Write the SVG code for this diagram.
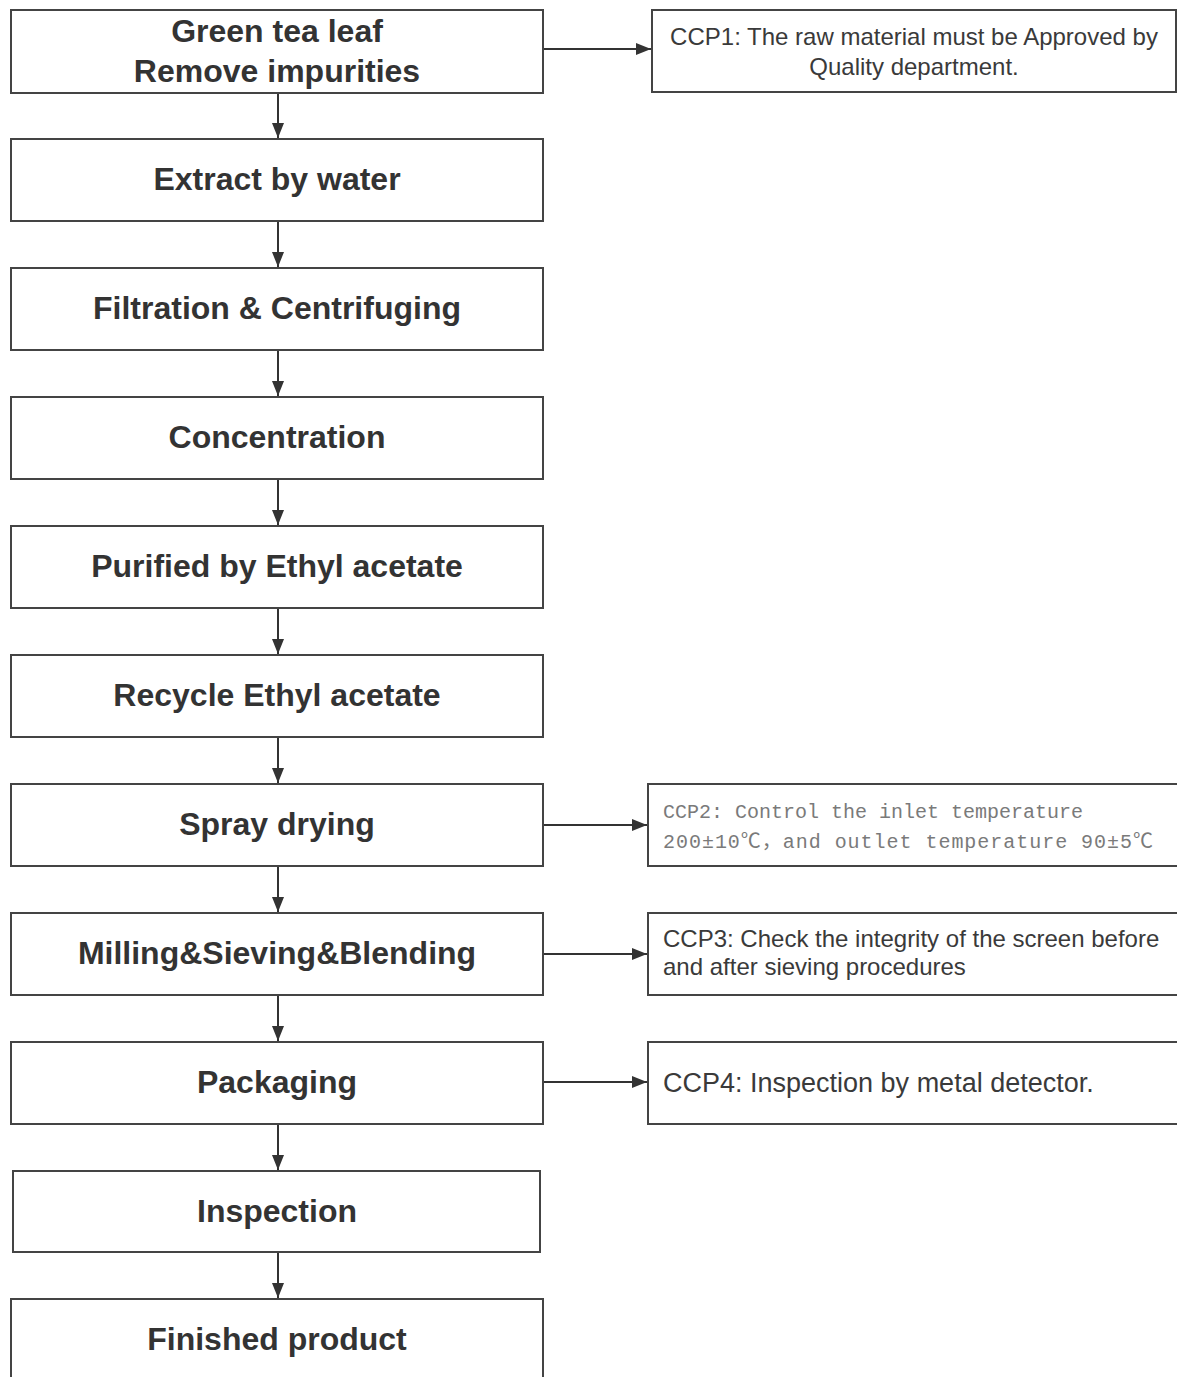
<svg xmlns="http://www.w3.org/2000/svg" width="1177" height="1377" viewBox="0 0 1177 1377">
<style>
.box{fill:#fff;stroke:#444;stroke-width:2}
.main{font-family:"Liberation Sans",Arial,sans-serif;font-weight:bold;font-size:32px;fill:#333;text-anchor:middle}
.note{font-family:"Liberation Sans",Arial,sans-serif;font-size:24px;fill:#3a3a3a}
.mono{font-family:"Liberation Mono","Noto Sans CJK SC",monospace;font-size:20px;fill:#7a7a7a}
.conn{stroke:#333;stroke-width:2;fill:none}
</style>
<defs>
<marker id="ah" markerUnits="userSpaceOnUse" markerWidth="16" markerHeight="14" viewBox="0 0 16 14" refX="15" refY="7" orient="auto">
<path d="M0,1 L15,7 L0,13 Z" fill="#333"/>
</marker>
</defs>
<rect width="1177" height="1377" fill="#fff"/>
<g id="connectors">
<line class="conn" x1="278" y1="93" x2="278" y2="138" marker-end="url(#ah)"/>
<line class="conn" x1="278" y1="221" x2="278" y2="267" marker-end="url(#ah)"/>
<line class="conn" x1="278" y1="350" x2="278" y2="396" marker-end="url(#ah)"/>
<line class="conn" x1="278" y1="479" x2="278" y2="525" marker-end="url(#ah)"/>
<line class="conn" x1="278" y1="608" x2="278" y2="654" marker-end="url(#ah)"/>
<line class="conn" x1="278" y1="737" x2="278" y2="783" marker-end="url(#ah)"/>
<line class="conn" x1="278" y1="866" x2="278" y2="912" marker-end="url(#ah)"/>
<line class="conn" x1="278" y1="995" x2="278" y2="1041" marker-end="url(#ah)"/>
<line class="conn" x1="278" y1="1124" x2="278" y2="1170" marker-end="url(#ah)"/>
<line class="conn" x1="278" y1="1252" x2="278" y2="1298" marker-end="url(#ah)"/>
<line class="conn" x1="543" y1="49" x2="651" y2="49" marker-end="url(#ah)"/>
<line class="conn" x1="543" y1="825" x2="647" y2="825" stroke-width="3" marker-end="url(#ah)"/>
<line class="conn" x1="543" y1="954" x2="647" y2="954" marker-end="url(#ah)"/>
<line class="conn" x1="543" y1="1082" x2="647" y2="1082" stroke-width="2.5" marker-end="url(#ah)"/>
</g>
<g id="n1"><rect class="box" x="11" y="10" width="532" height="83"/>
<text class="main" x="277" y="42">Green tea leaf</text>
<text class="main" x="277" y="82">Remove impurities</text></g>
<g id="n2"><rect class="box" x="11" y="139" width="532" height="82"/><text class="main" x="277" y="190">Extract by water</text></g>
<g id="n3"><rect class="box" x="11" y="268" width="532" height="82"/><text class="main" x="277" y="319">Filtration &amp; Centrifuging</text></g>
<g id="n4"><rect class="box" x="11" y="397" width="532" height="82"/><text class="main" x="277" y="448">Concentration</text></g>
<g id="n5"><rect class="box" x="11" y="526" width="532" height="82"/><text class="main" x="277" y="577">Purified by Ethyl acetate</text></g>
<g id="n6"><rect class="box" x="11" y="655" width="532" height="82"/><text class="main" x="277" y="706">Recycle Ethyl acetate</text></g>
<g id="n7"><rect class="box" x="11" y="784" width="532" height="82"/><text class="main" x="277" y="835">Spray drying</text></g>
<g id="n8"><rect class="box" x="11" y="913" width="532" height="82"/><text class="main" x="277" y="964">Milling&amp;Sieving&amp;Blending</text></g>
<g id="n9"><rect class="box" x="11" y="1042" width="532" height="82"/><text class="main" x="277" y="1093">Packaging</text></g>
<g id="n10"><rect class="box" x="13" y="1171" width="527" height="81"/><text class="main" x="277" y="1222">Inspection</text></g>
<g id="n11"><rect class="box" x="11" y="1299" width="532" height="90"/><text class="main" x="277" y="1350">Finished product</text></g>
<g id="ccp1"><rect class="box" x="652" y="10" width="524" height="82"/>
<text class="note" x="914" y="45" text-anchor="middle">CCP1: The raw material must be Approved by</text>
<text class="note" x="914" y="75" text-anchor="middle">Quality department.</text></g>
<g id="ccp2"><rect class="box" x="648" y="784" width="530" height="82"/>
<text class="mono" x="663" y="818">CCP2: Control the inlet temperature</text>
<text class="mono" x="663" y="848" textLength="490" lengthAdjust="spacing">200±10℃，and outlet temperature 90±5℃</text></g>
<g id="ccp3"><rect class="box" x="648" y="913" width="530" height="82"/>
<text class="note" x="663" y="947">CCP3: Check the integrity of the screen before</text>
<text class="note" x="663" y="975">and after sieving procedures</text></g>
<g id="ccp4"><rect class="box" x="648" y="1042" width="530" height="82"/>
<text class="note" x="663" y="1092" style="font-size:27px">CCP4: Inspection by metal detector.</text></g>
</svg>
